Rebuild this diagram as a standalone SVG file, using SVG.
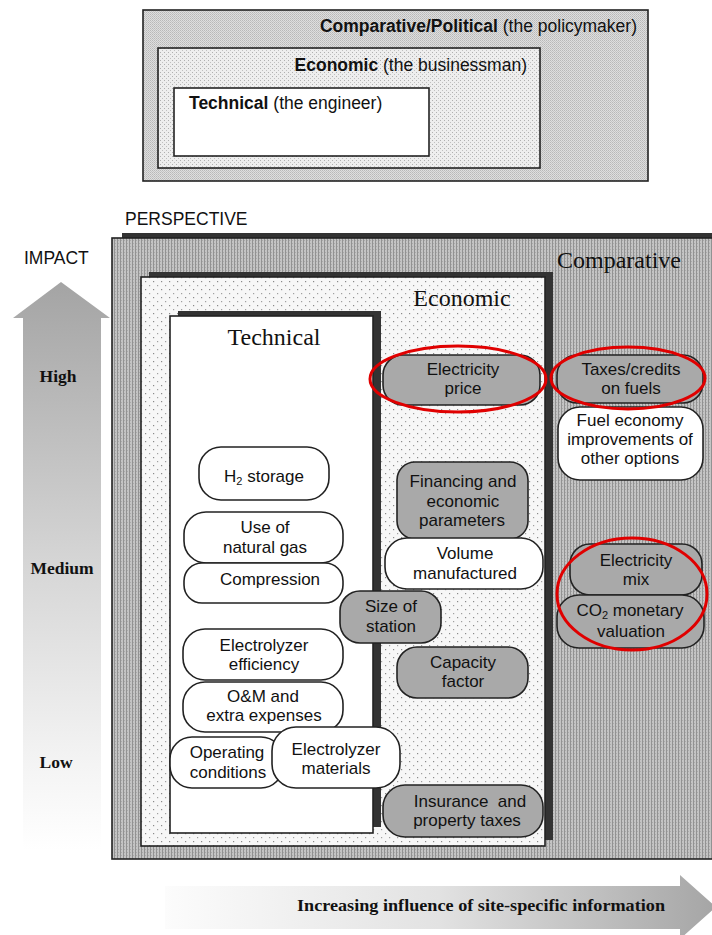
<svg xmlns="http://www.w3.org/2000/svg" width="712" height="935" viewBox="0 0 712 935">
<defs>
  <pattern id="stipple" width="2" height="2" patternUnits="userSpaceOnUse">
    <rect width="2" height="2" fill="#dedede"/>
    <rect width="1" height="1" fill="#b8b8b8"/>
    <rect x="1" y="1" width="1" height="1" fill="#c4c4c4"/>
  </pattern>
  <pattern id="stripes" width="3" height="3" patternUnits="userSpaceOnUse">
    <rect width="3" height="3" fill="#c4c4c4"/>
    <rect width="1" height="3" fill="#929292"/>
    <rect x="1" y="0" width="1" height="1" fill="#aaaaaa"/>
  </pattern>
  <pattern id="dots" width="8" height="8" patternUnits="userSpaceOnUse">
    <rect width="8" height="8" fill="#f7f7f7"/>
    <rect x="1" y="1" width="1.2" height="1.2" fill="#8a8a8a"/>
    <rect x="5" y="5" width="1.2" height="1.2" fill="#a0a0a0"/>
  </pattern>
  <pattern id="dotsSmall" width="4" height="4" patternUnits="userSpaceOnUse">
    <rect width="4" height="4" fill="#eeeeee"/>
    <rect x="0" y="0" width="1" height="1" fill="#b0b0b0"/>
    <rect x="2" y="2" width="1" height="1" fill="#c0c0c0"/>
  </pattern>
  <linearGradient id="gradUp" gradientUnits="userSpaceOnUse" x1="0" y1="282" x2="0" y2="850">
    <stop offset="0" stop-color="#a4a4a4"/>
    <stop offset="0.5" stop-color="#d6d6d6"/>
    <stop offset="0.85" stop-color="#f4f4f4"/>
    <stop offset="1" stop-color="#ffffff"/>
  </linearGradient>
  <linearGradient id="gradRight" gradientUnits="userSpaceOnUse" x1="165" y1="0" x2="712" y2="0">
    <stop offset="0" stop-color="#fcfcfc"/>
    <stop offset="0.5" stop-color="#e2e2e2"/>
    <stop offset="1" stop-color="#a6a6a6"/>
  </linearGradient>
  <style>
    .sans { font-family: "Liberation Sans", Arial, sans-serif; fill: #111; }
    .serif { font-family: "Liberation Serif", "Times New Roman", serif; fill: #111; }
    .lbl { font-size: 17.5px; }
    .node { font-size: 17px; text-anchor: middle; }
    .title { font-size: 24px; text-anchor: middle; }
    .lvl { font-size: 17.5px; font-weight: bold; text-anchor: middle; }
    .box { stroke: #222; stroke-width: 1.6; }
    .white { fill: #ffffff; stroke: #222; stroke-width: 1.6; }
    .gray { fill: #a9a9a9; stroke: #222; stroke-width: 1.6; }
    .shadow { fill: #333333; }
    .ring { fill: none; stroke: #e00000; stroke-width: 3; }
  </style>
</defs>

<!-- Legend (top) -->
<g id="legend">
  <rect x="143" y="10" width="505" height="171" fill="url(#stipple)" class="box"/>
  <text class="sans lbl" x="637" y="32" text-anchor="end"><tspan font-weight="bold">Comparative/Political</tspan> (the policymaker)</text>
  <rect x="158" y="48" width="382" height="120" fill="url(#dotsSmall)" class="box"/>
  <text class="sans lbl" x="527" y="71" text-anchor="end"><tspan font-weight="bold">Economic</tspan> (the businessman)</text>
  <rect x="174" y="88" width="255" height="68" fill="#ffffff" class="box"/>
  <text class="sans lbl" x="189" y="109"><tspan font-weight="bold">Technical</tspan> (the engineer)</text>
</g>

<!-- Axis labels and arrows -->
<g id="axes">
  <text class="sans" x="125" y="225" font-size="17.5">PERSPECTIVE</text>
  <text class="sans" x="24" y="264" font-size="17.5">IMPACT</text>
  <polygon points="61,282 110,318 101,318 101,850 23,850 23,318 13,318" fill="url(#gradUp)"/>
  <text class="serif lvl" x="58" y="382">High</text>
  <text class="serif lvl" x="62" y="574">Medium</text>
  <text class="serif lvl" x="56" y="768">Low</text>
  <polygon points="165,886 680,886 680,875 716,907 680,939 680,929 165,929" fill="url(#gradRight)"/>
  <text class="serif" x="481" y="911" font-size="16.5" font-weight="bold" text-anchor="middle" textLength="368" lengthAdjust="spacingAndGlyphs">Increasing influence of site-specific information</text>
</g>

<!-- Perspective boxes -->
<g id="comparative-box">
  <rect class="shadow" x="122" y="233" width="600" height="621"/>
  <rect x="112" y="238" width="610" height="621" fill="url(#stripes)" class="box"/>
  <text class="serif title" x="619" y="268">Comparative</text>
</g>
<g id="economic-box">
  <rect class="shadow" x="149" y="272" width="404" height="568"/>
  <rect x="141" y="277" width="404" height="569" fill="url(#dots)" class="box"/>
  <text class="serif title" x="462" y="306">Economic</text>
</g>
<g id="technical-box">
  <rect class="shadow" x="178" y="311" width="203" height="516"/>
  <rect x="170" y="316" width="203" height="517" fill="#ffffff" class="box"/>
  <text class="serif title" x="274" y="345">Technical</text>
</g>

<!-- Technical nodes -->
<g id="h2-storage">
  <rect class="white" x="199" y="447" width="130" height="53" rx="22"/>
  <text class="sans node" x="264" y="482">H<tspan font-size="11" dy="3">2</tspan><tspan dy="-3"> storage</tspan></text>
</g>
<g id="use-of-natural-gas">
  <rect class="white" x="184" y="512" width="159" height="51" rx="22"/>
  <text class="sans node" x="265" y="533">Use of</text>
  <text class="sans node" x="265" y="553">natural gas</text>
</g>
<g id="compression">
  <rect class="white" x="184" y="563" width="159" height="40" rx="18"/>
  <text class="sans node" x="270" y="585">Compression</text>
</g>
<g id="electrolyzer-efficiency">
  <rect class="white" x="183" y="629" width="160" height="51" rx="22"/>
  <text class="sans node" x="264" y="651">Electrolyzer</text>
  <text class="sans node" x="264" y="670">efficiency</text>
</g>
<g id="om-extra-expenses">
  <rect class="white" x="183" y="682" width="160" height="50" rx="22"/>
  <text class="sans node" x="263" y="702">O&amp;M and</text>
  <text class="sans node" x="264" y="721">extra expenses</text>
</g>
<g id="operating-conditions">
  <rect class="white" x="170" y="737" width="113" height="51" rx="22"/>
  <text class="sans node" x="227" y="758">Operating</text>
  <text class="sans node" x="228" y="778">conditions</text>
</g>
<g id="electrolyzer-materials">
  <rect class="white" x="272" y="727" width="128" height="61" rx="24"/>
  <text class="sans node" x="336" y="755">Electrolyzer</text>
  <text class="sans node" x="336" y="774">materials</text>
</g>

<!-- Economic nodes -->
<g id="electricity-price">
  <rect class="gray" x="383" y="355" width="157" height="50" rx="20"/>
  <text class="sans node" x="463" y="375">Electricity</text>
  <text class="sans node" x="463" y="394">price</text>
</g>
<g id="financing">
  <rect class="gray" x="397" y="462" width="131" height="77" rx="18"/>
  <text class="sans node" x="463" y="487">Financing and</text>
  <text class="sans node" x="463" y="507">economic</text>
  <text class="sans node" x="462" y="526">parameters</text>
</g>
<g id="volume-manufactured">
  <rect class="white" x="385" y="538" width="158" height="51" rx="22"/>
  <text class="sans node" x="465" y="559">Volume</text>
  <text class="sans node" x="465" y="579">manufactured</text>
</g>
<g id="size-of-station">
  <rect class="gray" x="340" y="591" width="101" height="52" rx="20"/>
  <text class="sans node" x="391" y="612">Size of</text>
  <text class="sans node" x="391" y="632">station</text>
</g>
<g id="capacity-factor">
  <rect class="gray" x="397" y="647" width="131" height="51" rx="20"/>
  <text class="sans node" x="463" y="668">Capacity</text>
  <text class="sans node" x="463" y="687">factor</text>
</g>
<g id="insurance">
  <rect class="gray" x="383" y="785" width="160" height="52" rx="22"/>
  <text class="sans node" x="470" y="807" xml:space="preserve">Insurance  and</text>
  <text class="sans node" x="467" y="826">property taxes</text>
</g>

<!-- Comparative nodes -->
<g id="taxes-credits">
  <rect class="gray" x="557" y="355" width="146" height="48" rx="20"/>
  <text class="sans node" x="631" y="375">Taxes/credits</text>
  <text class="sans node" x="631" y="394">on fuels</text>
</g>
<g id="fuel-economy">
  <rect class="white" x="558" y="407" width="145" height="73" rx="22"/>
  <text class="sans node" x="630" y="426">Fuel economy</text>
  <text class="sans node" x="630" y="445">improvements of</text>
  <text class="sans node" x="630" y="464">other options</text>
</g>
<g id="electricity-mix">
  <rect class="gray" x="570" y="544" width="132" height="51" rx="20"/>
  <text class="sans node" x="636" y="566">Electricity</text>
  <text class="sans node" x="636" y="585">mix</text>
</g>
<g id="co2-valuation">
  <rect class="gray" x="557" y="595" width="147" height="53" rx="22"/>
  <text class="sans node" x="630" y="616">CO<tspan font-size="11" dy="3">2</tspan><tspan dy="-3"> monetary</tspan></text>
  <text class="sans node" x="631" y="637">valuation</text>
</g>

<!-- Highlight rings -->
<g id="connectors">
  <ellipse class="ring" cx="458" cy="379" rx="88" ry="33"/>
  <ellipse class="ring" cx="628" cy="378" rx="77" ry="31"/>
  <ellipse class="ring" cx="632" cy="594" rx="75" ry="56"/>
</g>
</svg>
